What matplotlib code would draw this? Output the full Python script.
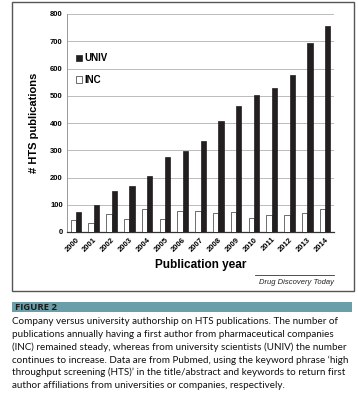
import matplotlib
matplotlib.use("Agg")
import matplotlib.pyplot as plt
import numpy as np
from matplotlib.patches import Rectangle

# Datos
years = [str(y) for y in range(2000, 2015)]
univ = [73, 98, 149, 169, 207, 274, 298, 335, 406, 462, 502, 528, 577, 695, 756]
inc = [44, 33, 66, 47, 84, 47, 76, 76, 70, 73, 50, 61, 62, 70, 84]
y_ticks = [0, 100, 200, 300, 400, 500, 600, 700, 800]

caption_lines = [
    "Company versus university authorship on HTS publications. The number of",
    "publications annually having a first author from pharmaceutical companies",
    "(INC) remained steady, whereas from university scientists (UNIV) the number",
    "continues to increase. Data are from Pubmed, using the keyword phrase \u2018high",
    "throughput screening (HTS)\u2019 in the title/abstract and keywords to return first",
    "author affiliations from universities or companies, respectively.",
]

W, H = 358, 397
fig = plt.figure(figsize=(W / 100, H / 100), dpi=100)
fig.patch.set_facecolor("white")

# Marco exterior de la figura
fig.patches.append(Rectangle((12 / W, 1 - 291 / H), 342 / W, 289 / H,
                             transform=fig.transFigure, fill=False,
                             edgecolor="#555555", linewidth=1.0))

ax = fig.add_axes([67 / W, 1 - 232 / H, 267 / W, 218 / H])
x = np.arange(len(years))
w = 0.3
ax.bar(x - w / 2, inc, w, color="white", edgecolor="#333333", linewidth=0.5,
       label="INC", zorder=3)
ax.bar(x + w / 2, univ, w, color="#231f20", edgecolor="#231f20", linewidth=0.5,
       label="UNIV", zorder=3)

ax.set_xlim(-0.5, len(years) - 0.5)
ax.set_ylim(0, 800)
ax.set_yticks(y_ticks)
ax.set_yticklabels([str(t) for t in y_ticks], fontsize=5.5, fontweight="bold",
                   family="Liberation Sans")
ax.set_xticks(x)
ax.set_xticklabels(years, rotation=45, ha="right", rotation_mode="anchor",
                   fontsize=5.5, fontweight="bold", family="Liberation Sans")
ax.tick_params(axis="both", length=0, pad=3)
ax.grid(axis="y", color="#bbbbbb", linewidth=0.7, zorder=0)
for s in ["top", "right"]:
    ax.spines[s].set_visible(False)
ax.spines["left"].set_color("#999999")
ax.spines["left"].set_linewidth(0.7)
ax.spines["bottom"].set_color("#333333")
ax.spines["bottom"].set_linewidth(0.9)

ax.set_xlabel("Publication year", fontsize=8.5, fontweight="bold",
              family="Liberation Sans", labelpad=4)
ax.set_ylabel("# HTS publications", fontsize=8, fontweight="bold",
              family="Liberation Sans", labelpad=8)

handles, labels = ax.get_legend_handles_labels()
leg = ax.legend(handles[::-1], labels[::-1], loc="upper left",
                bbox_to_anchor=(0.0, 0.86), frameon=False, handlelength=0.6,
                handleheight=0.6, handletextpad=0.3, labelspacing=1.2,
                prop={"family": "Liberation Sans", "weight": "bold", "size": 7})

# Firma de la revista
fig.add_artist(plt.Line2D([255 / W, 334 / W], [1 - 275 / H, 1 - 275 / H],
                          color="#333333", linewidth=0.6))
fig.text(334 / W, 1 - 282 / H, "Drug Discovery Today", ha="right", va="center",
         fontsize=5.5, style="italic", family="Liberation Sans", color="#222222")

# Barra de título del pie de figura
fig.patches.append(Rectangle((12 / W, 1 - 312 / H), 340 / W, 10 / H,
                             transform=fig.transFigure, facecolor="#6a9ea8",
                             edgecolor="none"))
fig.text(15 / W, 1 - 307 / H, "FIGURE 2", ha="left", va="center", fontsize=6.8,
         fontweight="bold", family="Open Sans", color="#1a1a1a")

# Texto del pie, una línea a la vez
for i, line in enumerate(caption_lines):
    fig.text(12 / W, 1 - (322 + i * 12.6) / H, line, ha="left", va="center",
             fontsize=7.15, family="Lato", color="#111111")

fig.savefig("out.png", dpi=100)
